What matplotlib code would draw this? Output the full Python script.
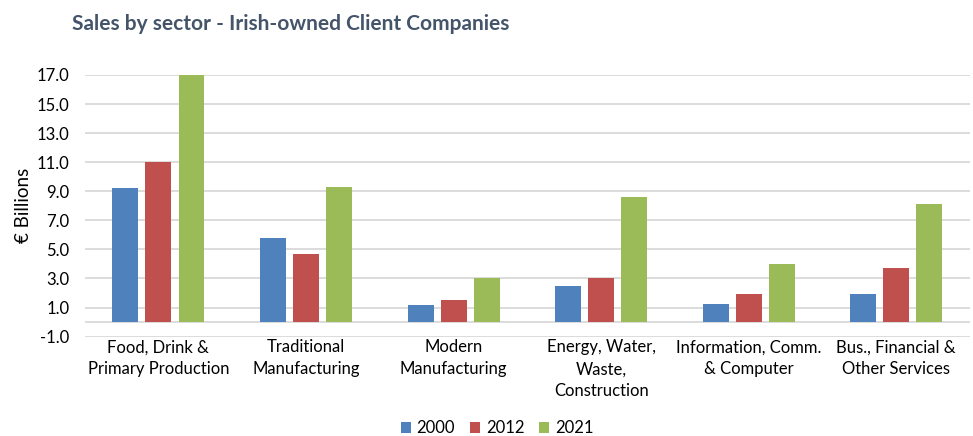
import matplotlib.pyplot as plt
import numpy as np

plt.rcParams["font.family"] = ["Lato", "DejaVu Sans"]

sectors = [
    "Food, Drink &\nPrimary Production",
    "Traditional\nManufacturing",
    "Modern\nManufacturing",
    "Energy, Water,\nWaste,\nConstruction",
    "Information, Comm.\n& Computer",
    "Bus., Financial &\nOther Services",
]
years = ["2000", "2012", "2021"]
sales_2000 = [9.2, 5.8, 1.15, 2.5, 1.25, 1.9]
sales_2012 = [11.0, 4.7, 1.5, 3.0, 1.9, 3.75]
sales_2021 = [17.0, 9.3, 3.0, 8.6, 4.0, 8.15]
colors = ["#4F81BD", "#C0504D", "#9BBB59"]

fig = plt.figure(figsize=(9.73, 4.36), dpi=100)
ax = fig.add_axes([0.087, 0.228, 0.91, 0.6])

x = np.arange(len(sectors))
width = 0.176
step = 0.224
for i, (vals, c, lab) in enumerate(zip([sales_2000, sales_2012, sales_2021], colors, years)):
    ax.bar(x + (i - 1) * step, vals, width, color=c, label=lab, zorder=3)

ax.set_ylim(-1, 17)
ax.set_xlim(-0.5, len(sectors) - 0.5)
ax.set_yticks(np.arange(-1, 17.1, 2))
ax.set_yticklabels([f"{v:.1f}" for v in np.arange(-1, 17.1, 2)], fontsize=12)
ax.yaxis.grid(True, color="#D9D9D9", linewidth=1.3, zorder=0)
ax.axhline(0, color="#D9D9D9", linewidth=1.3, zorder=1)
ax.set_xticks(x)
ax.set_xticklabels(sectors, fontsize=12, va="top", linespacing=1.45)
ax.tick_params(axis="both", length=0)
ax.tick_params(axis="y", pad=11)
ax.tick_params(axis="x", pad=2)
for s in ax.spines.values():
    s.set_visible(False)
ax.set_ylabel("€ Billions", fontsize=13.5, labelpad=3)

fig.text(0.074, 0.945, "Sales by sector - Irish-owned Client Companies",
         fontsize=15, fontweight="bold", color="#44546A", va="center")

fig.legend(loc="lower center", bbox_to_anchor=(0.511, -0.035), ncol=3, frameon=False,
           fontsize=12, handlelength=0.6, handleheight=0.6, handletextpad=0.35,
           columnspacing=0.9)

fig.savefig("out.png", dpi=100)
